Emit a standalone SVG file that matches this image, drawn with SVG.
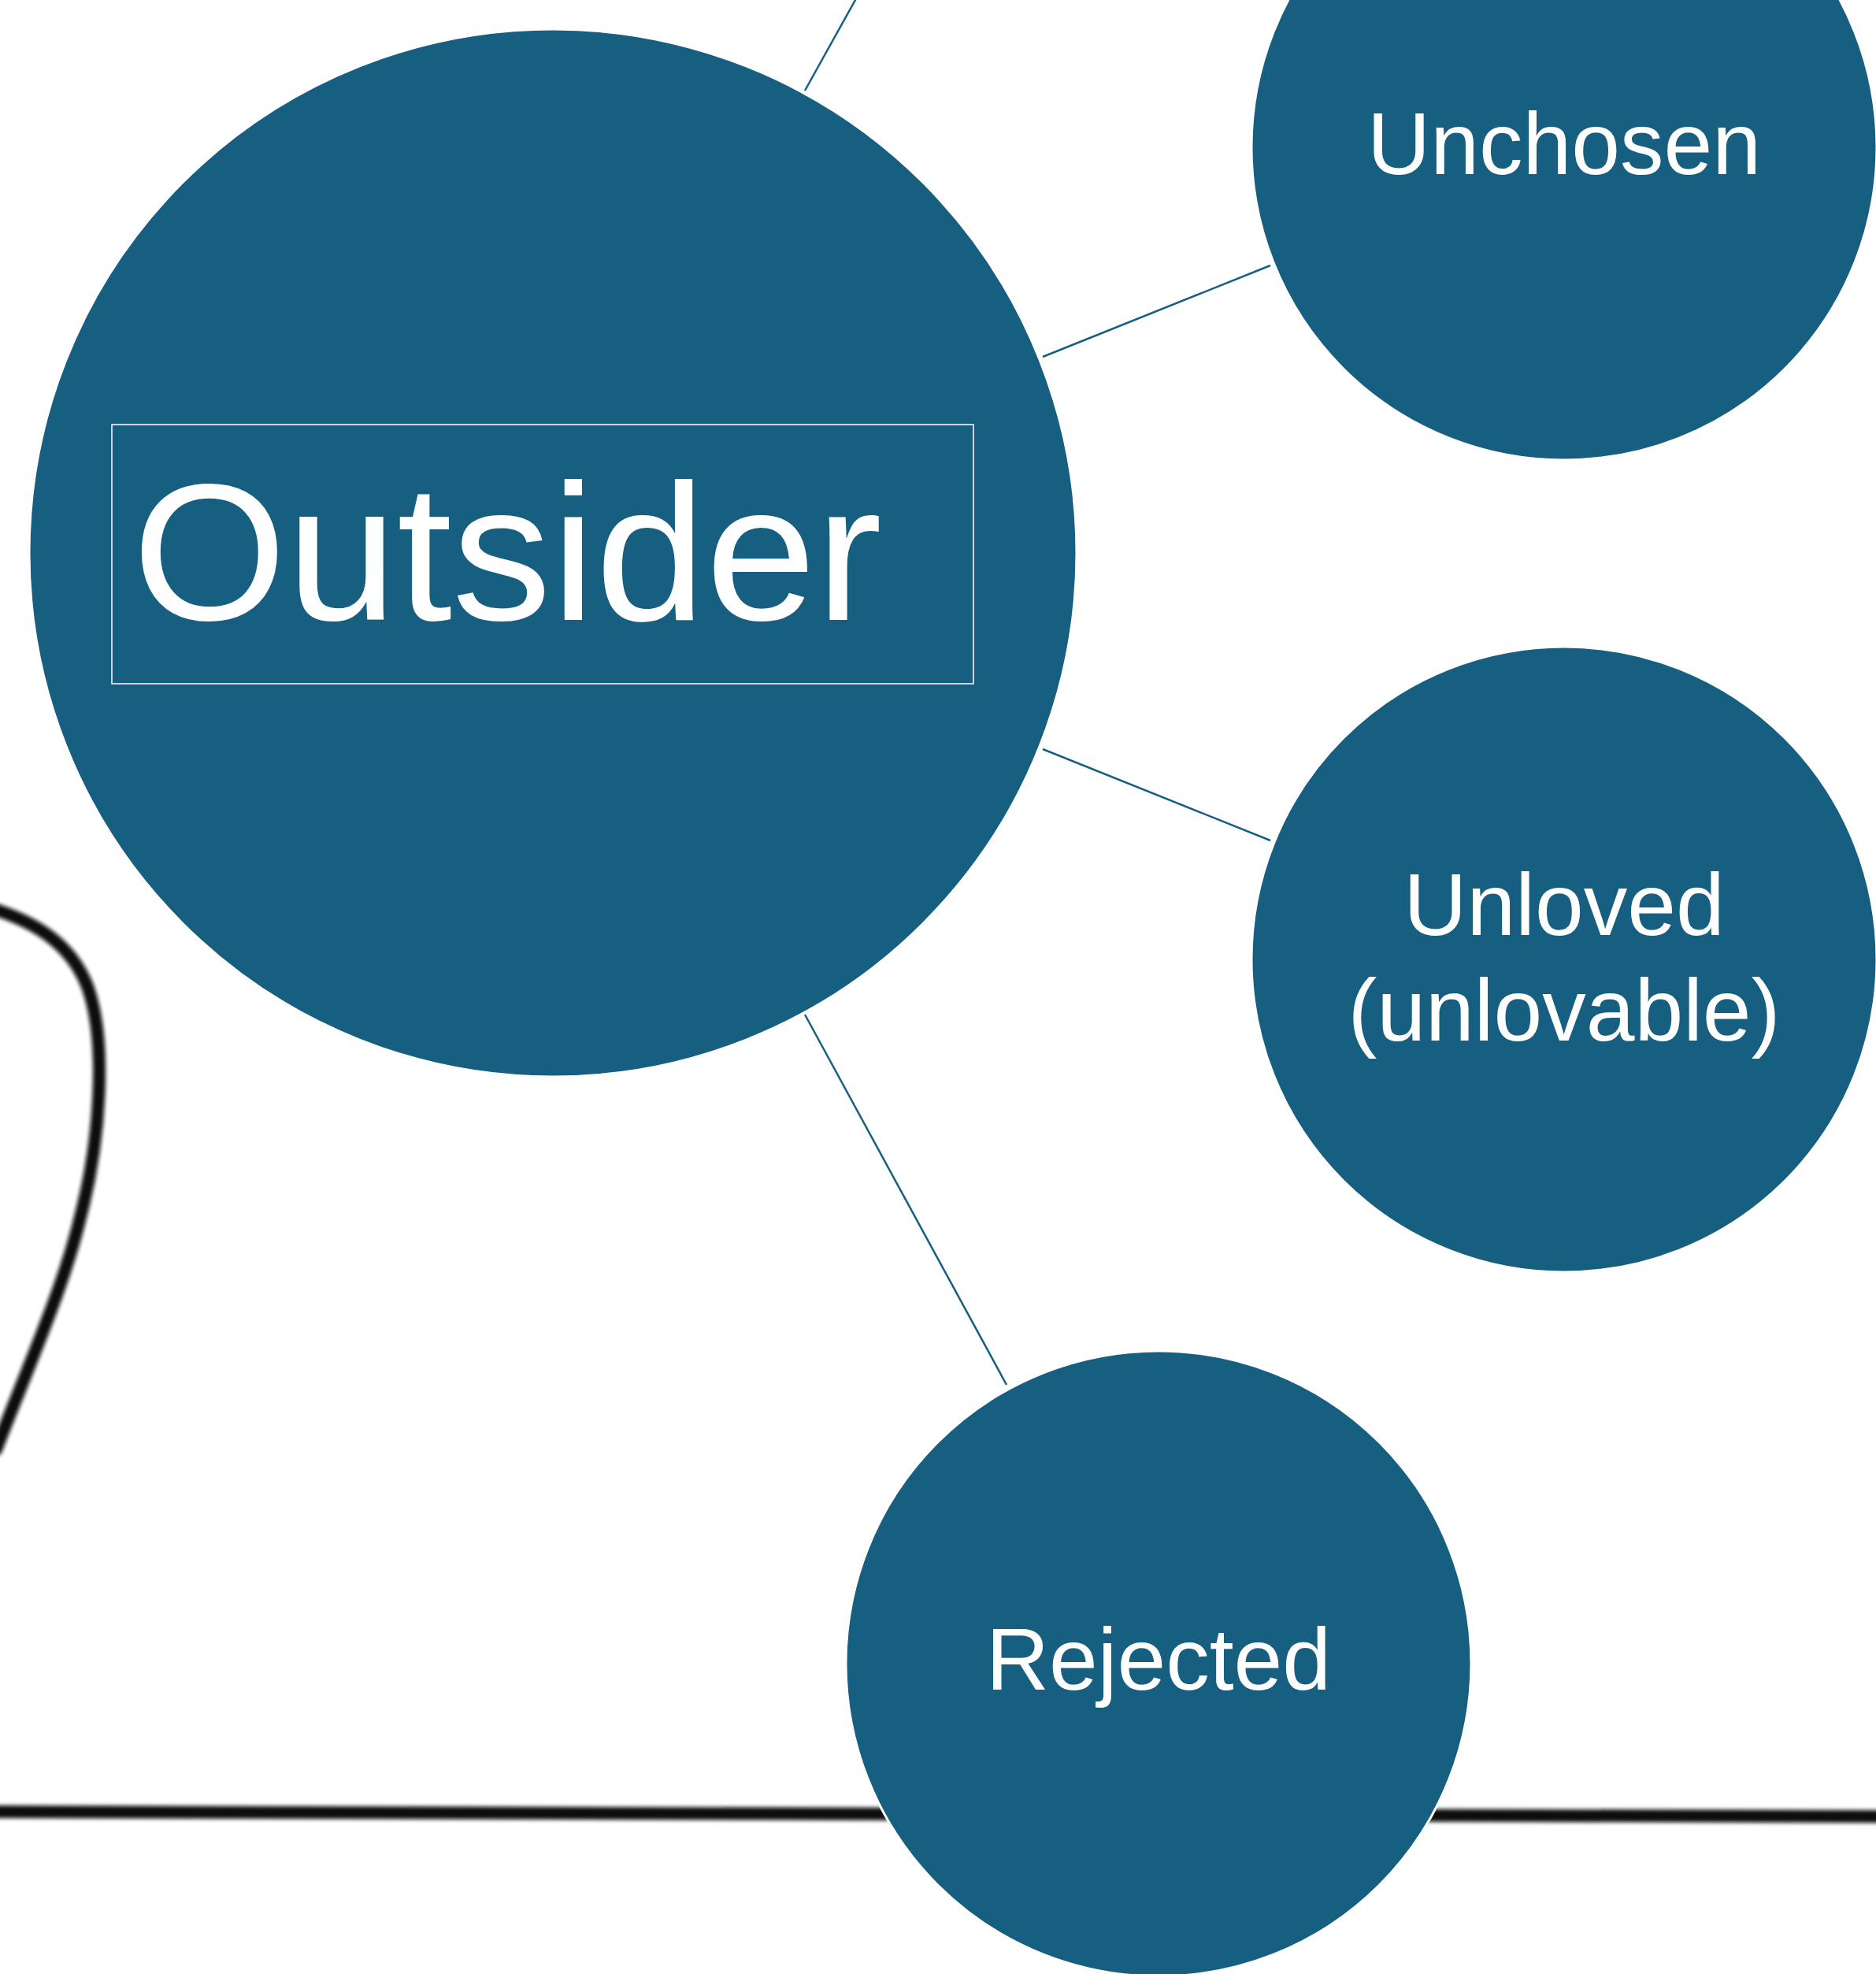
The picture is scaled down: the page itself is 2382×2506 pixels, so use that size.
<svg xmlns="http://www.w3.org/2000/svg" width="2382" height="2506" viewBox="0 0 2382 2506">
  <style>
    .node { fill: #175F81; stroke: #ffffff; stroke-width: 3; }
    .lbl { fill: #ffffff; font-family: "Liberation Sans", Arial, sans-serif; text-anchor: middle; font-size: 111px; }
    .conn { stroke: #175F81; stroke-width: 2.5; fill: none; }
    .ink { stroke: #0a0a0a; fill: none; stroke-linecap: round; }
  </style>
  <defs>
    <filter id="soft" x="-10%" y="-10%" width="120%" height="120%">
      <feGaussianBlur stdDeviation="2.5"/>
    </filter>
  </defs>
  <rect width="2382" height="2506" fill="#ffffff"/>
  <g id="sketch" filter="url(#soft)">
    <path class="ink" stroke-width="16" d="M -5 1155 C 40 1170, 90 1195, 112 1255 C 136 1325, 127 1450, 102 1545 C 82 1630, 42 1720, -5 1840"/>
    <path class="ink" stroke-width="16" d="M -5 2300 L 2390 2306"/>
  </g>
  <g id="connectors">
    <line class="conn" x1="1022" y1="115" x2="1150" y2="-115"/>
    <line class="conn" x1="1324" y1="453" x2="1613" y2="337"/>
    <line class="conn" x1="1324" y1="951" x2="1613" y2="1067"/>
    <line class="conn" x1="1022" y1="1288" x2="1278" y2="1758"/>
  </g>
  <g id="node-outsider">
    <circle class="node" cx="702" cy="702" r="665"/>
    <rect x="142" y="539" width="1094" height="329" fill="none" stroke="#ffffff" stroke-width="1.5"/>
    <text x="168" y="787" fill="#ffffff" font-family="'Liberation Sans', Arial, sans-serif" font-size="247" textLength="952" lengthAdjust="spacingAndGlyphs">Outsider</text>
  </g>
  <g id="node-unchosen">
    <circle class="node" cx="1986" cy="187" r="397"/>
    <text class="lbl" x="1986" y="221">Unchosen</text>
  </g>
  <g id="node-unloved">
    <circle class="node" cx="1986" cy="1218" r="397"/>
    <text class="lbl" x="1986" y="1187">Unloved</text>
    <text class="lbl" x="1986" y="1321">(unlovable)</text>
  </g>
  <g id="node-rejected">
    <circle class="node" cx="1471" cy="2112" r="397"/>
    <text class="lbl" x="1471" y="2145">Rejected</text>
  </g>
</svg>
